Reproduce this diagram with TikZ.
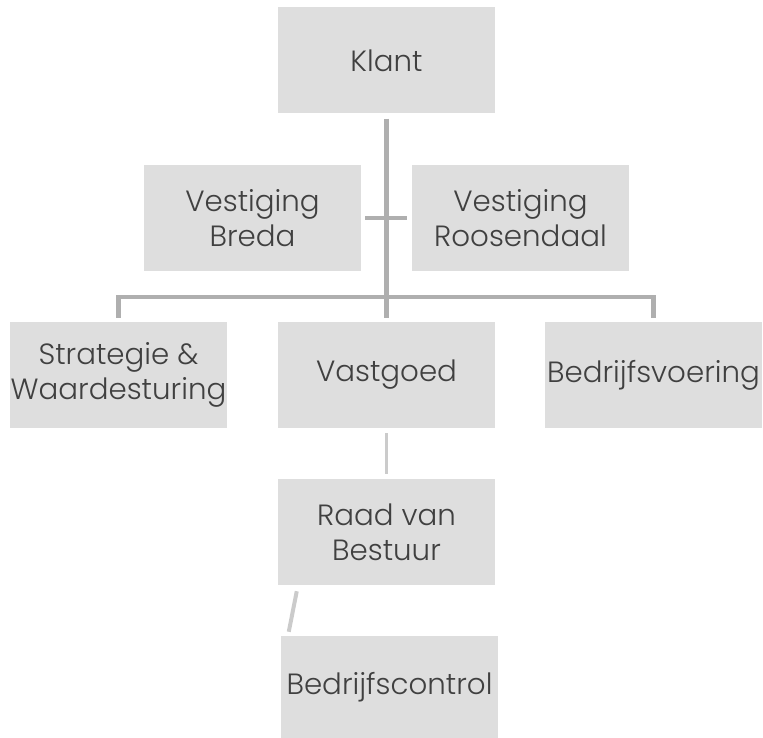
\documentclass[tikz,border=0pt]{standalone}
\usepackage{fontspec}
\setmainfont{Poppins Light}
\usepackage{xcolor}
\usepackage{tikz}
\usetikzlibrary{positioning}

\definecolor{boxgray}{HTML}{DEDEDE}
\definecolor{linegray}{HTML}{AFAFAF}
\definecolor{lightline}{HTML}{CBCBCB}
\definecolor{textgray}{HTML}{404040}

\begin{document}
\begin{tikzpicture}[
    x=0.03cm, y=-0.03cm,
    unitnode/.style={rectangle, fill=boxgray, text=textgray, minimum width=6.51cm, minimum height=3.18cm, inner sep=0pt, align=center, font=\fontsize{25}{30}\selectfont},
    trunk/.style={draw=linegray, line width=4pt},
    tickline/.style={draw=linegray, line width=3.4pt},
    lightlink/.style={draw=lightline, line width=3.4pt}
]
\useasboundingbox (0,0) rectangle (763,738);

% Bovenste laag
\node[unitnode] (klant) at (386.5, 60.5) {Klant};
\node[unitnode] (breda) at (252.5, 218) {Vestiging\\Breda};
\node[unitnode] (roosendaal) at (520.5, 218) {Vestiging\\Roosendaal};

% Afdelingen
\node[unitnode] (strategie) at (118.5, 375) {Strategie \&\\Waardesturing};
\node[unitnode] (vastgoed) at (386.5, 375) {Vastgoed};
\node[unitnode] (bedrijfsvoering) at (653.5, 375) {Bedrijfsvoering};

% Onderste laag
\node[unitnode] (raad) at (386.5, 532) {Raad van\\Bestuur};
\node[unitnode, minimum height=3.06cm] (control) at (389.5, 687) {Bedrijfscontrol};

% Lijnen
\coordinate (bus) at (386.5, 297);
\draw[trunk, shorten <=0.15cm, shorten >=0.12cm] (klant) -- (vastgoed);
\draw[trunk] ([yshift=0.12cm]strategie.north) |- (bus) -| ([yshift=0.12cm]bedrijfsvoering.north);
\draw[tickline, shorten <=0.12cm, shorten >=0.15cm] (breda) -- (roosendaal);
\draw[lightlink, shorten <=0.15cm, shorten >=0.15cm] (vastgoed) -- (raad);
\draw[lightlink] ([shift={(19,6)}]raad.south west) -- ([shift={(8,-4)}]control.north west);

\end{tikzpicture}
\end{document}
